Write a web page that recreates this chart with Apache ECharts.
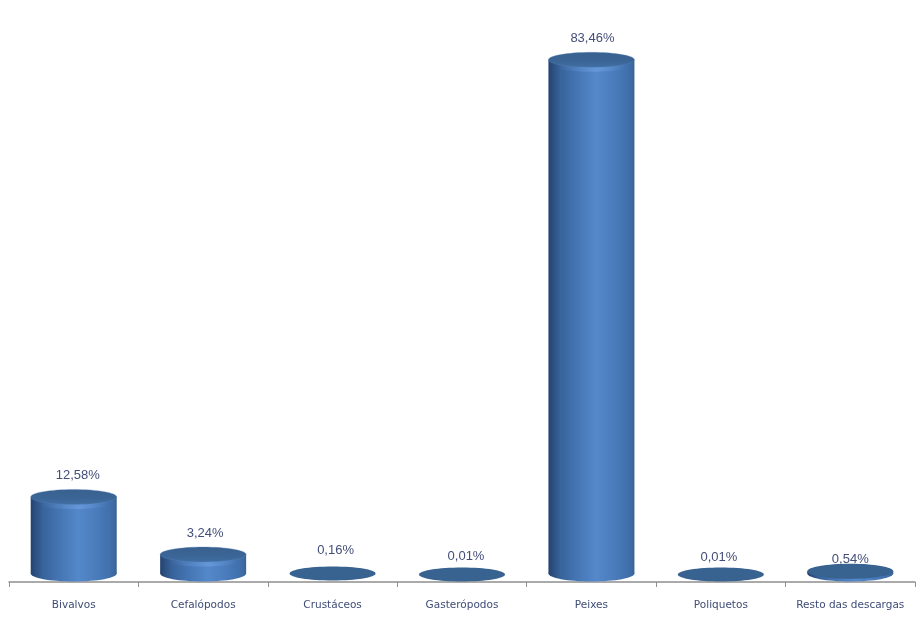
<!DOCTYPE html>
<html><head><meta charset="utf-8">
<style>html,body{margin:0;padding:0;background:#fff}#c{width:924px;height:618px}</style>
<script src="https://cdn.jsdelivr.net/npm/echarts@6/dist/echarts.min.js"></script>
</head><body><div id="c"></div>
<script>
const categories = ['Bivalvos','Cefalópodos','Crustáceos','Gasterópodos','Peixes','Poliquetos','Resto das descargas'];
const values = [12.58,3.24,0.16,0.01,83.46,0.01,0.54];
const valueLabels = ['12,58%','3,24%','0,16%','0,01%','83,46%','0,01%','0,54%'];
const labelShiftX = [4,2,3,4,1,-2,0];
const labelGapY = [14,13,15,10,13,9,4];

const RX = 43, RY = 8;
const chart = echarts.init(document.getElementById('c'), null, {renderer:'canvas'});
const sideFill = new echarts.graphic.LinearGradient(0,0,1,0,[
  {offset:0,color:'#24426f'},{offset:0.05,color:'#2c4f80'},{offset:0.14,color:'#38639b'},
  {offset:0.32,color:'#4474b2'},{offset:0.55,color:'#5488ca'},{offset:0.72,color:'#4d7fbf'},
  {offset:0.92,color:'#4070ad'},{offset:0.98,color:'#3c689f'},{offset:1,color:'#35608f'}]);
const capFill = new echarts.graphic.LinearGradient(0,0,0,1,[
  {offset:0,color:'#38618f'},{offset:0.6,color:'#3b6596'},{offset:1,color:'#416fa5'}]);
const flatFill = '#38628f';
const rimFill = new echarts.graphic.LinearGradient(0,0,1,0,[
  {offset:0,color:'rgba(120,170,235,0)'},{offset:0.6,color:'rgba(120,170,235,0.45)'},{offset:1,color:'rgba(120,170,235,0)'}]);

chart.setOption({
  animation:false,
  backgroundColor:'#fff',
  grid:{left:9,right:9,top:27,bottom:36,containLabel:false},
  xAxis:{type:'category',data:categories,boundaryGap:true,
    axisLine:{show:true,lineStyle:{color:'#8f8f8f',width:1.5}},
    axisTick:{show:true,alignWithLabel:false,length:5,lineStyle:{color:'#8f8f8f'}},
    axisLabel:{interval:0,color:'#3f4c76',fontFamily:'"DejaVu Sans"',fontSize:10.5,margin:18}},
  yAxis:{type:'value',min:0,max:90,show:false,splitLine:{show:false}},
  series:[{
    type:'custom',
    data:values.map((v,i)=>[i,v]),
    clip:false,
    renderItem(params,api){
      const i=api.value(0), v=api.value(1);
      const base=api.coord([i,0]), top=api.coord([i,v]);
      const cx=base[0], by=base[1]-RY-0.5, ty=top[1]-RY+0.5;
      const h=by-ty;
      const kids=[];
      if(h>=2){
        kids.push({type:'ellipse',shape:{cx,cy:by,rx:RX,ry:RY},style:{fill:sideFill}});
        kids.push({type:'rect',shape:{x:cx-RX,y:ty,width:RX*2,height:h},style:{fill:sideFill}});
      }
      if(h>6) kids.push({type:'ellipse',shape:{cx,cy:ty+RY-1,rx:RX*0.8,ry:5},style:{fill:rimFill}});
      kids.push({type:'ellipse',shape:{cx,cy:ty,rx:RX,ry:h>=2?RY-0.5:RY-1},style:h>6
        ?{fill:capFill,stroke:'rgba(90,135,190,0.5)',lineWidth:0.6}:{fill:flatFill}});
      kids.push({type:'text',z2:5,style:{x:cx+labelShiftX[i],y:ty-RY-labelGapY[i],text:valueLabels[i],fill:'#434e78',
          font:'13px "Liberation Sans"',align:'center',verticalAlign:'middle'}});
      return {type:'group',children:kids};
    }
  }]
});
</script></body></html>
